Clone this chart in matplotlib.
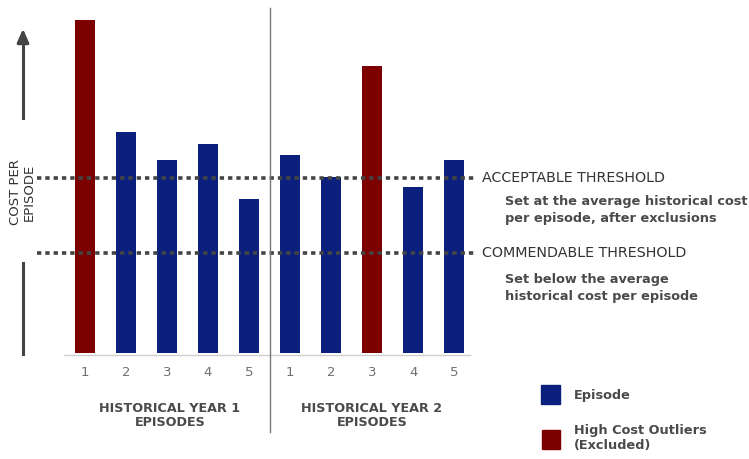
import matplotlib.pyplot as plt
from matplotlib.patches import Rectangle

# cost per episode (relative units), year 1 then year 2
year1_cost = [333, 221, 193, 209, 154]
year2_cost = [198, 176, 287, 166, 193]
outlier = [True, False, False, False, False, False, False, True, False, False]
episode_labels = ['1', '2', '3', '4', '5', '1', '2', '3', '4', '5']
acceptable = 175
commendable = 100

navy = '#0b1f7c'
darkred = '#7c0000'
txt = '#4a4a4a'

W, H = 749, 459
fig = plt.figure(figsize=(W / 100, H / 100), dpi=100)

def fx(px):
    return px / W

def fy(py):
    return 1 - py / H

# axes placed so x units are bar slots, y units are pixels above the baseline
ax = fig.add_axes([fx(37), fy(353), fx(475) - fx(37), fy(8) - fy(353)])
costs = year1_cost + year2_cost
xs = list(range(len(costs)))
colors = [darkred if o else navy for o in outlier]
ax.bar(xs, costs, width=0.5, color=colors, zorder=2)
ax.set_xlim(-1.17, 9.51)
ax.set_ylim(0, 345)
ax.axis('off')

for level in (acceptable, commendable):
    ax.axhline(level, color='#444444', lw=2.6, ls=(0, (1.2, 1.1)), zorder=3)

ax.plot([-0.5, 9.4], [-2, -2], color='#cfcfcf', lw=1, clip_on=False)

for x, lab in zip(xs, episode_labels):
    ax.text(x, -20, lab, ha='center', va='center', fontsize=9.5, color='#707070')

# divider between the two years
fig.add_artist(plt.Line2D([fx(270), fx(270)], [fy(8), fy(432)], color='#777777', lw=1))

fig.text(fx(170), fy(416), 'HISTORICAL YEAR 1\nEPISODES', ha='center', va='center',
         fontsize=9.2, fontweight='bold', color=txt, linespacing=1.1)
fig.text(fx(372), fy(416), 'HISTORICAL YEAR 2\nEPISODES', ha='center', va='center',
         fontsize=9.2, fontweight='bold', color=txt, linespacing=1.1)

# vertical axis arrow and title
fig.add_artist(plt.Line2D([fx(23), fx(23)], [fy(263), fy(354)], color='#444444', lw=2.2))
fig.add_artist(plt.Line2D([fx(23), fx(23)], [fy(118), fy(40)], color='#444444', lw=2.2))
ax.annotate('', xy=(fx(23), fy(26)), xytext=(fx(23), fy(45)), xycoords='figure fraction',
            textcoords='figure fraction',
            arrowprops=dict(arrowstyle='-|>,head_length=0.8,head_width=0.35',
                            color='#444444', lw=2.2))
fig.text(fx(22), fy(192), 'COST PER\nEPISODE', rotation=90, ha='center', va='center',
         fontsize=9.5, color='#333333', linespacing=1.05)

# threshold notes
fig.text(fx(482), fy(178), 'ACCEPTABLE THRESHOLD', ha='left', va='center',
         fontsize=10.3, color='#333333')
fig.text(fx(505), fy(210), 'Set at the average historical cost\nper episode, after exclusions',
         ha='left', va='center', fontsize=9.3, color=txt, fontweight='bold', linespacing=1.35)
fig.text(fx(482), fy(253), 'COMMENDABLE THRESHOLD', ha='left', va='center',
         fontsize=10.3, color='#333333')
fig.text(fx(505), fy(288), 'Set below the average\nhistorical cost per episode',
         ha='left', va='center', fontsize=9.3, color=txt, fontweight='bold', linespacing=1.35)

# legend
fig.add_artist(Rectangle((fx(541), fy(404)), fx(19), fy(385) - fy(404), color=navy))
fig.add_artist(Rectangle((fx(542), fy(449)), fx(18), fy(430) - fy(449), color=darkred))
fig.text(fx(574), fy(395), 'Episode', ha='left', va='center', fontsize=9.3,
         fontweight='bold', color=txt)
fig.text(fx(574), fy(438), 'High Cost Outliers\n(Excluded)', ha='left', va='center',
         fontsize=9.3, fontweight='bold', color=txt, linespacing=1.2)

fig.savefig('out.png', dpi=100)
